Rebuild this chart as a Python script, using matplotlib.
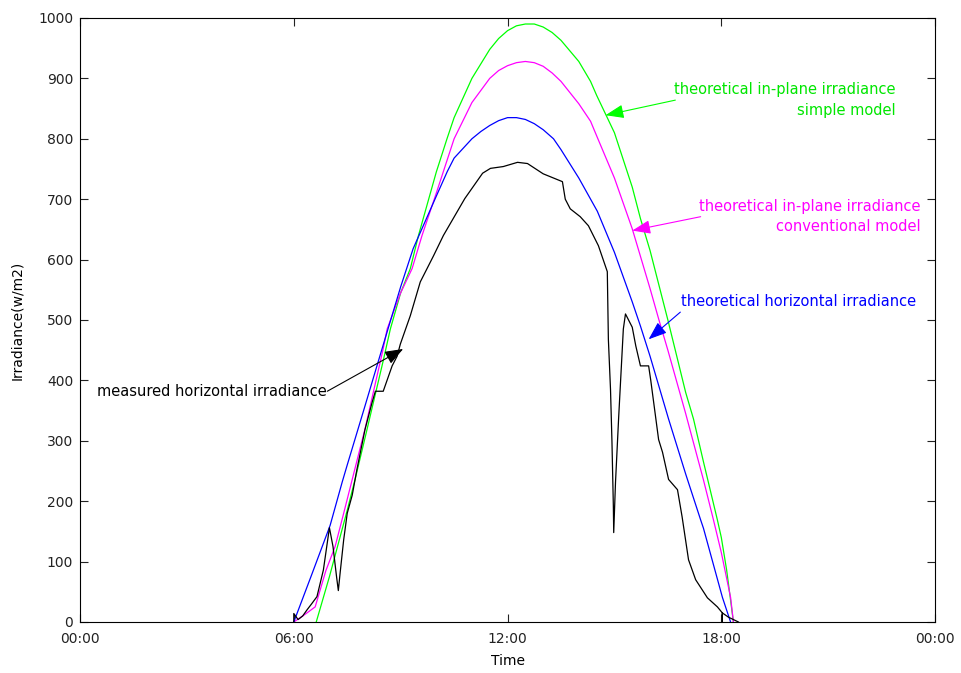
import numpy as np
import matplotlib
matplotlib.use('Agg')
import matplotlib.pyplot as plt

plt.rcParams['font.family'] = ['DejaVu Sans']
plt.rcParams['font.size'] = 10

# time of day in hours, irradiance in W/m2
t_simple = [6.63, 7.0, 7.5, 7.72, 8.0, 8.5, 8.71, 9.0, 9.27, 9.5, 10.0, 10.3, 10.5,
            11.0, 11.5, 11.75, 12.0, 12.25, 12.5, 12.75, 13.0, 13.25, 13.5, 14.0,
            14.33, 14.5, 15.0, 15.5, 15.73, 16.0, 16.5, 17.0, 17.22, 17.5, 17.89,
            18.0, 18.15, 18.34]
g_simple = [0, 75, 185, 236, 305, 430, 485, 545, 585, 640, 745, 800, 835,
            900, 948, 966, 979, 987, 990, 990, 985, 976, 963, 928,
            895, 872, 810, 720, 668, 615, 500, 380, 336, 265, 169,
            140, 86, 0]

t_conv = [6.0, 6.3, 6.6, 6.9, 7.16, 7.4, 7.64, 8.0, 8.5, 8.62, 9.0, 9.32, 9.6, 10.0,
          10.5, 11.0, 11.5, 11.75, 12.0, 12.25, 12.5, 12.75, 13.0, 13.25, 13.5,
          14.0, 14.33, 14.5, 15.0, 15.5, 16.0, 16.24, 16.5, 17.0, 17.5, 17.78,
          18.0, 18.26, 18.34]
g_conv = [0, 12, 25, 85, 125, 180, 236, 320, 450, 485, 545, 585, 640, 710,
          800, 860, 900, 913, 921, 926, 928, 926, 920, 909, 895,
          858, 829, 805, 735, 651, 552, 502, 450, 345, 235, 169,
          115, 41, 0]

t_horiz = [6.0, 6.5, 7.02, 7.36, 7.5, 8.0, 8.43, 9.0, 9.35, 10.0, 10.31, 10.5,
           11.0, 11.25, 11.5, 11.75, 12.0, 12.25, 12.5, 12.75, 13.0, 13.29, 13.5,
           14.0, 14.52, 15.0, 15.5, 15.73, 16.0, 16.52, 17.0, 17.42, 17.5, 18.03,
           18.26]
g_horiz = [0, 78, 160, 232, 260, 358, 443, 555, 618, 705, 746, 768,
           800, 812, 822, 830, 835, 835, 832, 825, 815, 800, 782,
           735, 680, 612, 530, 490, 440, 336, 245, 169, 155, 41,
           0]

t_meas = [6.0, 6.0, 6.12, 6.25, 6.37, 6.5, 6.65, 6.83, 7.0, 7.1, 7.2, 7.25, 7.3,
          7.4, 7.5, 7.64, 7.77, 8.0, 8.2, 8.29, 8.51, 8.76, 8.9, 8.99, 9.27,
          9.55, 9.92, 10.2, 10.8, 11.3, 11.52, 11.88, 12.28, 12.56, 13.0,
          13.54, 13.62, 13.76, 14.04, 14.27, 14.55, 14.8, 14.83, 14.89, 14.93,
          14.97, 14.98, 15.03, 15.12, 15.25, 15.31, 15.5, 15.6, 15.73, 15.96,
          16.02, 16.24, 16.35, 16.52, 16.77, 16.9, 17.08, 17.28, 17.61, 17.89,
          18.03, 18.03, 18.03, 18.2, 18.48]
g_meas = [0, 14, 4, 10, 20, 30, 42, 86, 156, 125, 75, 52, 81,
          136, 180, 210, 252, 319, 364, 382, 382, 424, 440, 460, 507,
          563, 606, 640, 701, 743, 751, 754, 761, 759, 742,
          729, 700, 684, 671, 656, 623, 580, 468, 385, 300,
          191, 148, 231, 340, 485, 510, 488, 457, 424, 424,
          400, 302, 281, 236, 219, 174, 103, 70, 40, 25,
          15, 0, 15, 8, 0]

x_ticks = [0, 6, 12, 18, 24]
x_ticklabels = ['00:00', '06:00', '12:00', '18:00', '00:00']
y_ticks = list(range(0, 1001, 100))

fig = plt.figure(figsize=(9.61, 6.73), dpi=100)
ax = fig.add_axes([0.0833, 0.0758, 0.8897, 0.8975])

lw = 0.9
ax.plot(t_simple, g_simple, color='#00ff00', lw=lw)
ax.plot(t_conv, g_conv, color='#ff00ff', lw=lw)
ax.plot(t_horiz, g_horiz, color='#0000ff', lw=lw)
ax.plot(t_meas, g_meas, color='black', lw=lw)

ax.set_xlim(0, 24)
ax.set_ylim(0, 1000)
ax.set_xticks(x_ticks)
ax.set_xticklabels(x_ticklabels)
ax.set_yticks(y_ticks)
ax.tick_params(direction='in', length=6, width=0.8, top=True, right=True,
               labelsize=10, colors='#222222')
ax.tick_params(axis='x', pad=7)
ax.tick_params(axis='y', pad=5)
for s in ax.spines.values():
    s.set_linewidth(0.8)
ax.set_xlabel('Time', fontsize=10, labelpad=6)
ax.set_ylabel('Irradiance(w/m2)', fontsize=10, labelpad=10)

arr = '-|>,head_length=0.8,head_width=0.3'

def label_arrow(tip, tail, color):
    ax.annotate('', xy=tip, xytext=tail,
                arrowprops=dict(arrowstyle=arr, color=color, lw=0.8,
                                mutation_scale=14, shrinkA=0, shrinkB=0))

fs = 10.5
label_arrow((14.75, 839), (16.71, 864), '#00ff00')
ax.text(22.89, 864, 'theoretical in-plane irradiance\nsimple model', color='#00e600',
        ha='right', va='center', multialignment='right', linespacing=1.45, fontsize=fs)

label_arrow((15.5, 648), (17.42, 671), '#ff00ff')
ax.text(23.6, 671, 'theoretical in-plane irradiance\nconventional model', color='#ff00ff',
        ha='right', va='center', multialignment='right', linespacing=1.4, fontsize=fs)

label_arrow((15.96, 468), (16.85, 513), '#0000ff')
ax.text(23.48, 530, 'theoretical horizontal irradiance', color='#0000ff',
        ha='right', va='center', fontsize=fs)

label_arrow((9.07, 452), (6.94, 382), 'black')
ax.text(0.48, 382, 'measured horizontal irradiance', color='black',
        ha='left', va='center', fontsize=fs)

fig.savefig('out.png', dpi=100)
